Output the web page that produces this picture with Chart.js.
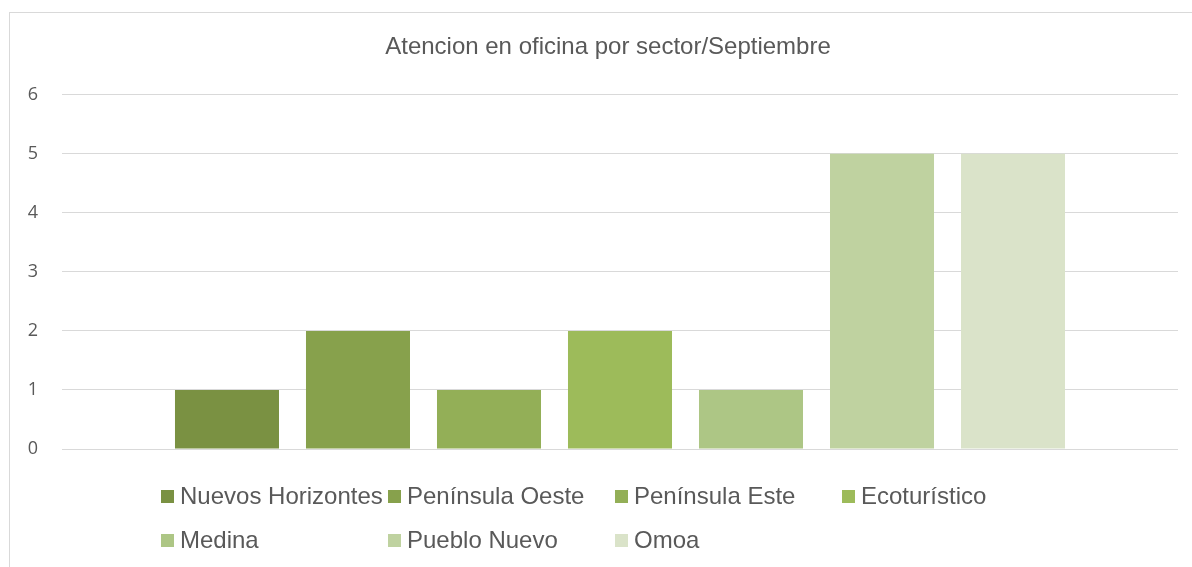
<!DOCTYPE html>
<html>
<head>
<meta charset="utf-8">
<script src="https://cdn.jsdelivr.net/npm/chart.js@4/dist/chart.umd.min.js"></script>
<style>
  html, body { margin: 0; padding: 0; background: #fff; overflow: hidden; }
  body { width: 1192px; height: 567px; position: relative; }
  .frame {
    position: absolute; left: 9px; top: 12px; width: 1200px; height: 570px;
    border: 1px solid #d9d9d9; box-sizing: border-box;
  }
  .wrap { position: absolute; left: 9px; top: 12px; width: 1198px; height: 555px; }
  .legend {
    position: absolute; left: 161px; top: 474px;
    display: grid; grid-template-columns: repeat(4, 227px); grid-auto-rows: 44px;
    font-family: 'Liberation Sans', Arial, sans-serif; font-size: 24px; color: #595959;
  }
  .legend-item { display: flex; align-items: center; white-space: nowrap; }
  .legend-dot { width: 13px; height: 13px; margin-right: 6px; flex: none; }
</style>
</head>
<body>
<div class="frame"></div>
<div class="wrap"><canvas id="barChart"></canvas></div>
<div class="legend" id="barLegend"></div>
<script>
// ── Data ────────────────────────────────────────────────────────────────────
const categories = ['Septiembre'];
const sectors = ['Nuevos Horizontes', 'Península Oeste', 'Península Este', 'Ecoturístico',
                 'Medina', 'Pueblo Nuevo', 'Omoa'];
const values = [1, 2, 1, 2, 1, 5, 5];
const yTicks = [0, 1, 2, 3, 4, 5, 6];

const sectorColors = ['#7a9142', '#87a14c', '#93af57', '#9dbb5a', '#adc685', '#bfd2a0', '#dae3c9'];

const ctx = document.getElementById('barChart').getContext('2d');

const chart = new Chart(ctx, {
  type: 'bar',
  data: {
    labels: categories,
    datasets: sectors.map((name, i) => ({
      label: name,
      data: [values[i]],
      backgroundColor: sectorColors[i],
      borderWidth: 0,
      categoryPercentage: 0.8217,
      barPercentage: 0.794
    }))
  },
  options: {
    responsive: true,
    maintainAspectRatio: false,
    animation: false,
    layout: { padding: { bottom: 110 } },
    plugins: {
      legend: { display: false },
      tooltip: { enabled: false },
      title: {
        display: true,
        text: 'Atencion en oficina por sector/Septiembre',
        color: '#595959',
        font: { family: "'Liberation Sans', Arial, sans-serif", size: 24, weight: 'normal' },
        padding: { top: 21, bottom: 33 }
      }
    },
    scales: {
      x: {
        ticks: { display: false },
        grid: { display: false },
        border: { display: false }
      },
      y: {
        min: 0,
        max: 6,
        afterBuildTicks: s => { s.ticks = yTicks.map(v => ({ value: v })); },
        afterFit: s => { s.width = 53; },
        ticks: {
          color: '#595959',
          padding: 24,
          font: { family: "'Open Sans', sans-serif", size: 18 }
        },
        grid: { color: '#d9d9d9', lineWidth: 1, drawTicks: false },
        border: { display: false }
      },
      // empty right-hand spacer so the title stays centred on the whole frame
      yRight: {
        position: 'right',
        ticks: { display: false },
        grid: { display: false },
        border: { display: false },
        afterFit: s => { s.width = 29; }
      }
    }
  }
});

// Render HTML legend
document.getElementById('barLegend').innerHTML = sectors.map((l, i) =>
  `<div class="legend-item"><div class="legend-dot" style="background:${sectorColors[i]}"></div>${l}</div>`
).join('');
</script>
</body>
</html>
